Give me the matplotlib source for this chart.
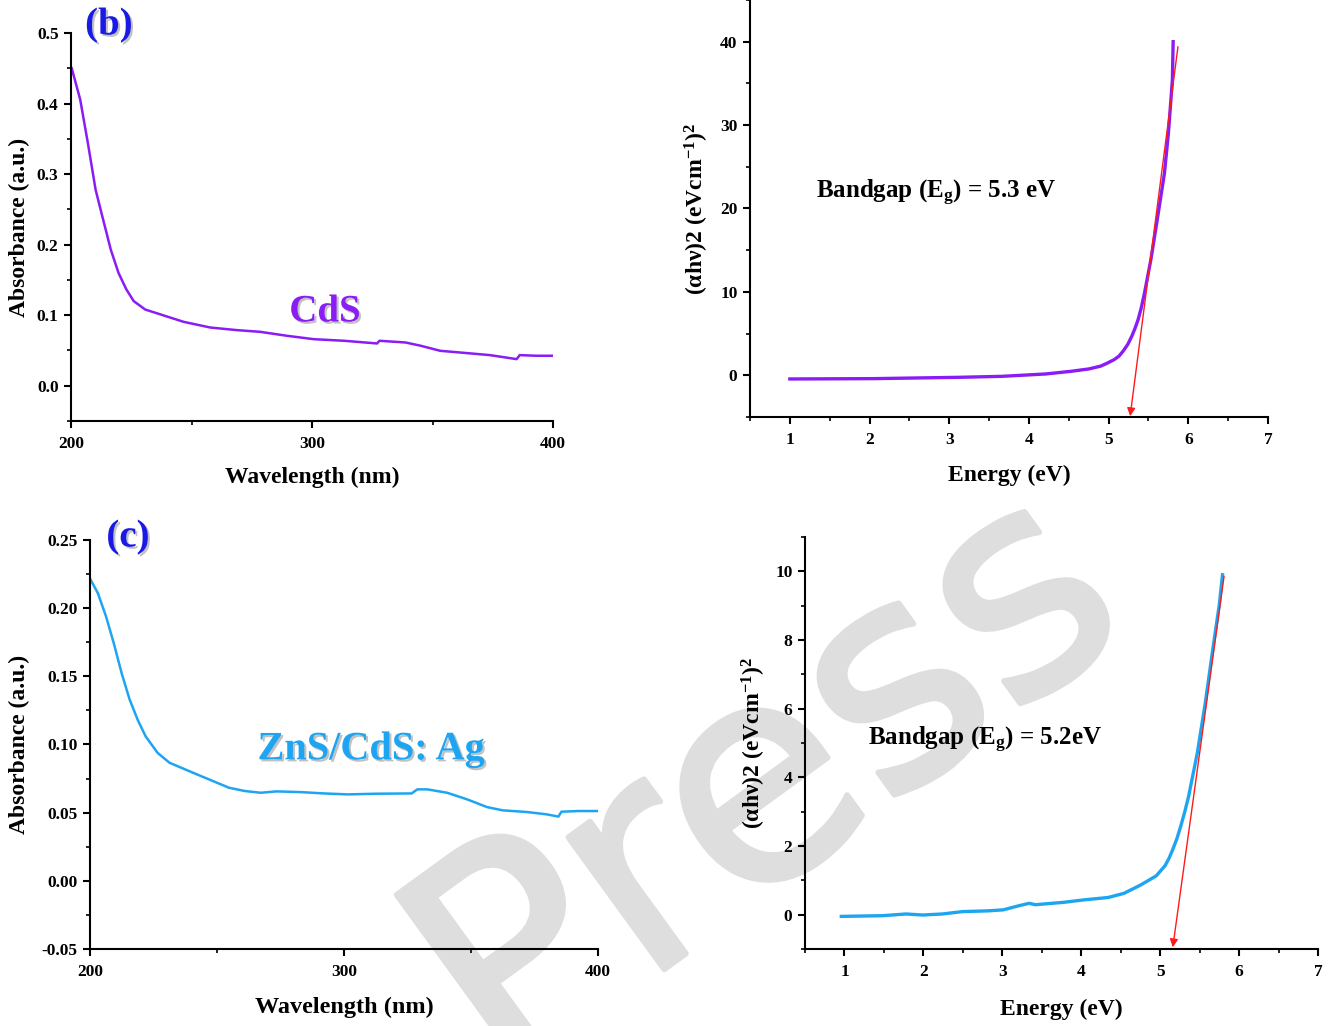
import matplotlib
matplotlib.use("Agg")
import matplotlib.pyplot as plt
import matplotlib.patheffects as pe
from matplotlib.ticker import MultipleLocator
import numpy as np

plt.rcParams['font.family'] = ['Liberation Serif', 'DejaVu Serif']
plt.rcParams['font.weight'] = 'bold'
plt.rcParams['mathtext.fontset'] = 'custom'
plt.rcParams['mathtext.rm'] = 'Liberation Serif:bold'
plt.rcParams['mathtext.it'] = 'Liberation Serif:bold:italic'
plt.rcParams['mathtext.bf'] = 'Liberation Serif:bold'

# ---------------- data ----------------
# (b) CdS absorbance
cds_wl = [200.3, 203.8, 207.0, 210.2, 213.3, 216.5, 219.7, 222.9, 226.0, 230.8, 237.2,
          246.7, 257.8, 268.9, 278.5, 289.6, 300.7, 313.4, 327.0, 328.0, 338.8, 345.2,
          353.2, 361.1, 373.8, 384.9, 386.2, 392.9, 400.0]
cds_abs = [0.450, 0.406, 0.344, 0.278, 0.236, 0.193, 0.160, 0.137, 0.120, 0.108, 0.101,
           0.0906, 0.0825, 0.0788, 0.0764, 0.0708, 0.066, 0.0637, 0.0599, 0.0637, 0.0613, 0.0566,
           0.0495, 0.0472, 0.0434, 0.0377, 0.0434, 0.0425, 0.0425]

# CdS Tauc plot
cds_E = [1.0, 2.05, 3.13, 3.67, 4.21, 4.53, 4.75, 4.90, 4.97, 5.07, 5.13, 5.18, 5.24, 5.29,
         5.33, 5.37, 5.41, 5.45, 5.53, 5.61, 5.70, 5.75, 5.80, 5.81]
cds_tauc = [-0.44, -0.40, -0.24, -0.12, 0.16, 0.48, 0.76, 1.1, 1.4, 1.88, 2.3, 2.87, 3.7, 4.67,
            5.6, 6.67, 8.1, 9.86, 13.85, 18.64, 24.2, 29.0, 35.4, 40.0]
cds_fit_E = [5.87, 5.27]
cds_fit_y = [39.4, -4.9]

# (c) ZnS/CdS:Ag absorbance
zns_wl = [200.3, 203.1, 206.3, 209.4, 212.5, 215.6, 218.8, 221.9, 226.6, 231.3, 237.5,
          242.2, 248.4, 254.7, 260.9, 267.2, 273.4, 282.8, 292.2, 301.6, 312.5, 326.6,
          328.9, 332.8, 340.6, 348.4, 356.3, 362.5, 371.9, 379.7, 384.4, 385.6, 392.2, 400.0]
zns_abs = [0.2207, 0.211, 0.194, 0.174, 0.152, 0.133, 0.118, 0.106, 0.0939, 0.0866, 0.0817,
           0.078, 0.0732, 0.0683, 0.0659, 0.0646, 0.0656, 0.0651, 0.0641, 0.0634, 0.0639, 0.0641,
           0.0671, 0.0671, 0.0646, 0.0598, 0.0541, 0.0517, 0.0505, 0.0488, 0.0471, 0.0507, 0.0512, 0.0512]

# ZnS/CdS:Ag Tauc plot
zns_E = [0.96, 1.48, 1.78, 1.99, 2.24, 2.50, 2.81, 3.01, 3.21, 3.34, 3.42, 3.78, 4.03,
         4.34, 4.54, 4.75, 4.95, 5.06, 5.11, 5.16, 5.21, 5.26, 5.31, 5.36, 5.47, 5.57, 5.67, 5.75, 5.79]
zns_tauc = [-0.05, -0.03, 0.02, -0.01, 0.02, 0.09, 0.11, 0.14, 0.26, 0.33, 0.29, 0.36, 0.43,
            0.50, 0.62, 0.86, 1.13, 1.42, 1.63, 1.9, 2.2, 2.57, 2.98, 3.44, 4.7, 6.14, 7.78, 9.04, 9.9]
zns_fit_E = [5.81, 5.16]
zns_fit_y = [9.86, -0.95]

# ---------------- figure ----------------
W, H = 1333, 1026
fig = plt.figure(figsize=(W / 100, H / 100), dpi=100)

def axrect(x0, y0, x1, y1):
    return [x0 / W, 1 - y1 / H, (x1 - x0) / W, (y1 - y0) / H]

purple = '#8a1cf5'
blue = '#1ea5f2'
lab_blue = '#1a1ae6'
shadow = [pe.withSimplePatchShadow(offset=(1.5, -1.5), shadow_rgbFace='#999999', alpha=0.6)]

# watermark
fig.text(770 / W, 1 - 790 / H, 'Press', rotation=36, fontsize=215, color='#dedede',
         family='DejaVu Sans', weight='normal', ha='center', va='center', zorder=-5,
         path_effects=[pe.withStroke(linewidth=4, foreground='#dedede')])

def style(ax):
    for s in ['top', 'right']:
        ax.spines[s].set_visible(False)
    for s in ['left', 'bottom']:
        ax.spines[s].set_linewidth(1.5)
    ax.set_facecolor('none')
    ax.tick_params(which='major', direction='out', length=5, width=1.5, labelsize=12.5, pad=4)
    ax.tick_params(which='minor', direction='out', length=3, width=1.2)
    ax.tick_params(axis='x', which='major', pad=6)
    for lab in ax.get_xticklabels() + ax.get_yticklabels():
        lab.set_fontweight('bold')

tauc_label = r'($\mathrm{\alpha}$h$\mathrm{\nu}$)2 (eVcm$^{\mathrm{-1}}$)$^{\mathrm{2}}$'
LFS = 17

# (b) CdS absorbance
ax1 = fig.add_axes(axrect(71, 33, 553, 421))
ax1.plot(cds_wl, cds_abs, color=purple, lw=1.8)
ax1.set_xlim(200, 400)
ax1.set_ylim(-0.05, 0.5)
ax1.set_xticks([200, 300, 400])
ax1.xaxis.set_minor_locator(MultipleLocator(50))
ax1.set_yticks([0.0, 0.1, 0.2, 0.3, 0.4, 0.5])
ax1.yaxis.set_minor_locator(MultipleLocator(0.05))
ax1.set_yticklabels(['0.0', '0.1', '0.2', '0.3', '0.4', '0.5'])
style(ax1)
ax1.set_xlabel('Wavelength (nm)', fontsize=LFS, fontweight='bold')
ax1.xaxis.set_label_coords(0.5, -0.119)
ax1.set_ylabel('Absorbance (a.u.)', fontsize=LFS, fontweight='bold')
ax1.yaxis.set_label_coords(-0.085, 0.5)
fig.text(109 / W, 1 - 25 / H, '(b)', fontsize=28, color=lab_blue, weight='bold',
         ha='center', va='center', path_effects=shadow)
ax1.text(0.527, 0.281, 'CdS', transform=ax1.transAxes, fontsize=28, color=purple,
         weight='bold', ha='center', va='center', path_effects=shadow)

# CdS Tauc
ax2 = fig.add_axes(axrect(750, 0, 1268, 417))
ax2.plot(cds_E, cds_tauc, color=purple, lw=2.4, solid_joinstyle='round')
ax2.annotate('', xy=(cds_fit_E[1], cds_fit_y[1]), xytext=(cds_fit_E[0], cds_fit_y[0]),
             arrowprops=dict(arrowstyle='-|>', color='#ff1a1a', lw=1.0,
                             mutation_scale=12, shrinkA=0, shrinkB=0))
ax2.set_xlim(0.5, 7)
ax2.set_ylim(-5, 45)
ax2.set_xticks([1, 2, 3, 4, 5, 6, 7])
ax2.xaxis.set_minor_locator(MultipleLocator(0.5))
ax2.set_yticks([0, 10, 20, 30, 40])
ax2.yaxis.set_minor_locator(MultipleLocator(5))
style(ax2)
ax2.set_xlabel('Energy (eV)', fontsize=LFS, fontweight='bold')
ax2.xaxis.set_label_coords(0.5, -0.115)
ax2.set_ylabel(tauc_label, fontsize=LFS, fontweight='bold')
ax2.yaxis.set_label_coords(-0.075, 0.5)
ax2.text(0.359, 0.537, 'Bandgap (E$_{\\mathrm{g}}$) = 5.3 eV', transform=ax2.transAxes,
         fontsize=18, weight='bold', ha='center', va='center')

# (c) ZnS/CdS:Ag absorbance
ax3 = fig.add_axes(axrect(90, 540, 598, 949))
ax3.plot(zns_wl, zns_abs, color=blue, lw=1.8)
ax3.set_xlim(200, 400)
ax3.set_ylim(-0.05, 0.25)
ax3.set_xticks([200, 300, 400])
ax3.xaxis.set_minor_locator(MultipleLocator(50))
ax3.set_yticks([-0.05, 0.0, 0.05, 0.10, 0.15, 0.20, 0.25])
ax3.set_yticklabels(['-0.05', '0.00', '0.05', '0.10', '0.15', '0.20', '0.25'])
ax3.yaxis.set_minor_locator(MultipleLocator(0.025))
style(ax3)
ax3.set_xlabel('Wavelength (nm)', fontsize=LFS + 0.5, fontweight='bold')
ax3.xaxis.set_label_coords(0.5, -0.117)
ax3.set_ylabel('Absorbance (a.u.)', fontsize=LFS, fontweight='bold')
ax3.yaxis.set_label_coords(-0.118, 0.5)
fig.text(128 / W, 1 - 537 / H, '(c)', fontsize=28, color=lab_blue, weight='bold',
         ha='center', va='center', path_effects=shadow)
ax3.text(0.553, 0.487, 'ZnS/CdS: Ag', transform=ax3.transAxes, fontsize=29, color=blue,
         weight='bold', ha='center', va='center', path_effects=shadow)

# ZnS/CdS:Ag Tauc
ax4 = fig.add_axes(axrect(805, 537, 1318, 949))
ax4.plot(zns_E, zns_tauc, color=blue, lw=2.4, solid_joinstyle='round')
ax4.annotate('', xy=(zns_fit_E[1], zns_fit_y[1]), xytext=(zns_fit_E[0], zns_fit_y[0]),
             arrowprops=dict(arrowstyle='-|>', color='#ff1a1a', lw=1.0,
                             mutation_scale=12, shrinkA=0, shrinkB=0))
ax4.set_xlim(0.5, 7)
ax4.set_ylim(-1, 11)
ax4.set_xticks([1, 2, 3, 4, 5, 6, 7])
ax4.xaxis.set_minor_locator(MultipleLocator(0.5))
ax4.set_yticks([0, 2, 4, 6, 8, 10])
ax4.yaxis.set_minor_locator(MultipleLocator(1))
style(ax4)
ax4.set_xlabel('Energy (eV)', fontsize=LFS, fontweight='bold')
ax4.xaxis.set_label_coords(0.5, -0.121)
ax4.set_ylabel(tauc_label, fontsize=LFS, fontweight='bold')
ax4.yaxis.set_label_coords(-0.072, 0.5)
ax4.text(0.351, 0.507, 'Bandgap (E$_{\\mathrm{g}}$) = 5.2eV', transform=ax4.transAxes,
         fontsize=18, weight='bold', ha='center', va='center')

fig.savefig('out.png', dpi=100)
